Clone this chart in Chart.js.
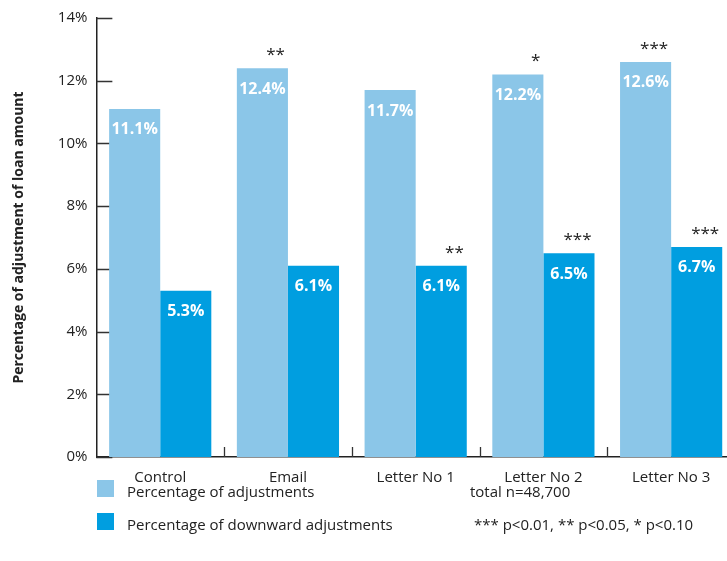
<!DOCTYPE html>
<html>
<head>
<meta charset="utf-8">
<script src="https://cdn.jsdelivr.net/npm/chart.js@4.4.1/dist/chart.umd.min.js"></script>
<style>
  html, body { margin: 0; padding: 0; background: #fff; overflow: hidden; }
  #wrap { position: relative; width: 727px; height: 561px; overflow: hidden; font-family: "Open Sans", sans-serif; color: #222; }
  #c { position: absolute; left: 0; top: 0; }
  .sw { position: absolute; width: 17px; height: 17px; }
  .lt { position: absolute; font-size: 15px; line-height: 18px; white-space: nowrap; }
</style>
</head>
<body>
<div id="wrap">
  <canvas id="c" width="735" height="561"></canvas>
  <div class="sw" style="left:97px; top:480px; background:#8bc6e8;"></div>
  <div class="lt" style="left:127px; top:482px;">Percentage of adjustments</div>
  <div class="sw" style="left:97px; top:513px; background:#009ee0;"></div>
  <div class="lt" style="left:127px; top:515px;">Percentage of downward adjustments</div>
  <div class="lt" style="left:470px; top:482px;">total n=48,700</div>
  <div class="lt" style="left:474px; top:515px;">*** p&lt;0.01, ** p&lt;0.05, * p&lt;0.10</div>
</div>
<script>
// Loan amount adjustments by type of reminder
const categories = ['Control', 'Email', 'Letter No 1', 'Letter No 2', 'Letter No 3'];
const adjustments = [11.1, 12.4, 11.7, 12.2, 12.6];
const downwardAdjustments = [5.3, 6.1, 6.1, 6.5, 6.7];
const adjustmentsSig = ['', '**', '', '*', '***'];
const downwardSig = ['', '', '**', '***', '***'];
const yTicks = [0, 2, 4, 6, 8, 10, 12, 14];

const FONT = '"Open Sans", sans-serif';
const INK = '#222';

// Short inward-pointing ticks on both axes, drawn underneath the bars
const inwardTicks = {
  id: 'inwardTicks',
  beforeDatasetsDraw(chart) {
    const { ctx, chartArea, scales } = chart;
    ctx.save();
    ctx.strokeStyle = '#333';
    ctx.lineWidth = 1.3;
    ctx.beginPath();
    yTicks.forEach(v => {
      const y = Math.round(scales.y.getPixelForValue(v)) + 0.5;
      ctx.moveTo(chartArea.left, y);
      ctx.lineTo(chartArea.left + 16, y);
    });
    const n = categories.length;
    for (let i = 1; i < n; i++) {
      const x = Math.round((scales.x.getPixelForValue(i - 1) + scales.x.getPixelForValue(i)) / 2) + 0.5;
      ctx.moveTo(x, chartArea.bottom);
      ctx.lineTo(x, chartArea.bottom - 10);
    }
    ctx.stroke();
    ctx.restore();
  }
};

// Value labels inside the bars and significance stars above them
const barLabels = {
  id: 'barLabels',
  afterDatasetsDraw(chart) {
    const { ctx } = chart;
    const sigs = [adjustmentsSig, downwardSig];
    ctx.save();
    chart.data.datasets.forEach((ds, di) => {
      const meta = chart.getDatasetMeta(di);
      meta.data.forEach((bar, i) => {
        const v = ds.data[i];
        ctx.fillStyle = '#fff';
        ctx.font = 'bold 16px ' + FONT;
        ctx.textAlign = 'center';
        ctx.textBaseline = 'middle';
        ctx.fillText(v.toFixed(1) + '%', bar.x, bar.y + 21);
        const s = sigs[di][i];
        if (s) {
          ctx.fillStyle = INK;
          ctx.font = '17px ' + FONT;
          ctx.textAlign = 'right';
          ctx.textBaseline = 'middle';
          ctx.fillText(s, bar.x + bar.width / 2 - 3, bar.y - 13);
        }
      });
    });
    ctx.restore();
  }
};

new Chart(document.getElementById('c'), {
  type: 'bar',
  data: {
    labels: categories,
    datasets: [
      { label: 'Percentage of adjustments', data: adjustments, backgroundColor: '#8bc6e8' },
      { label: 'Percentage of downward adjustments', data: downwardAdjustments, backgroundColor: '#009ee0' }
    ]
  },
  options: {
    responsive: false,
    animation: false,
    devicePixelRatio: 1,
    categoryPercentage: 0.8,
    barPercentage: 1.0,
    layout: { padding: { top: 10, right: 0, bottom: 62, left: 11 } },
    plugins: { legend: { display: false }, tooltip: { enabled: false } },
    scales: {
      x: {
        grid: { display: false, drawTicks: false },
        border: { display: true, color: '#222', width: 1.5 },
        ticks: { color: INK, font: { family: FONT, size: 15 }, padding: 12 }
      },
      y: {
        min: 0,
        max: 14,
        grid: { display: false, drawTicks: false },
        border: { display: true, color: '#222', width: 1.5 },
        afterBuildTicks(scale) { scale.ticks = yTicks.map(v => ({ value: v })); },
        ticks: {
          color: INK,
          font: { family: FONT, size: 15 },
          padding: 9,
          callback: v => v + '%'
        },
        title: {
          display: true,
          text: 'Percentage of adjustment of loan amount',
          color: INK,
          font: { family: FONT, size: 14, weight: 'bold' },
          padding: { top: 0, bottom: 21 }
        }
      }
    }
  },
  plugins: [inwardTicks, barLabels]
});
</script>
</body>
</html>
